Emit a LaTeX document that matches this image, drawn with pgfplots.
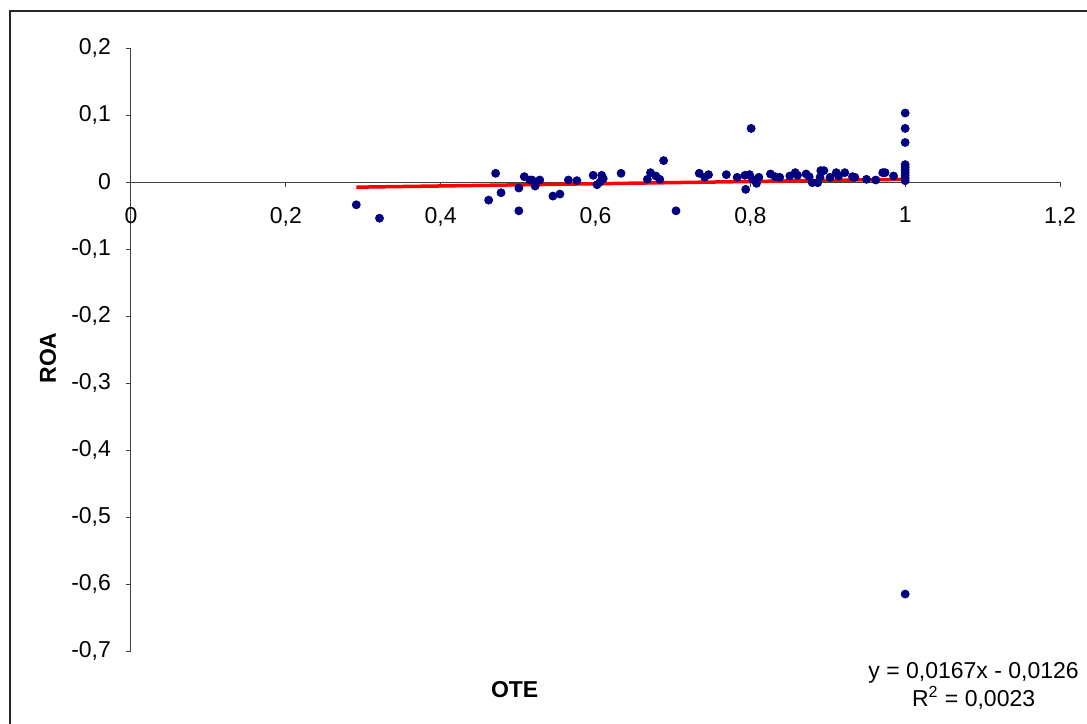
\documentclass[border=0pt]{standalone}
\usepackage{pgfplots}
\pgfplotsset{compat=1.18}
\usepackage{fontspec}
\setmainfont{Liberation Sans}
\definecolor{dotblue}{RGB}{0,0,128}
\pgfplotstableread{
x y
0.291 -0.034
0.321 -0.054
0.462 -0.027
0.471 0.013
0.478 -0.016
0.501 -0.043
0.501 -0.009
0.508 0.008
0.515 0.003
0.518 0.003
0.522 -0.006
0.528 0.003
0.545 -0.021
0.554 -0.018
0.565 0.003
0.576 0.002
0.597 0.010
0.602 -0.004
0.606 0.000
0.608 0.010
0.610 0.005
0.633 0.013
0.667 0.004
0.671 0.014
0.678 0.009
0.683 0.004
0.688 0.032
0.704 -0.043
0.734 0.013
0.741 0.007
0.746 0.011
0.769 0.011
0.783 0.007
0.793 0.010
0.794 -0.011
0.799 0.011
0.801 0.080
0.803 0.004
0.808 -0.002
0.811 0.007
0.826 0.012
0.832 0.008
0.838 0.007
0.851 0.009
0.858 0.014
0.861 0.010
0.872 0.012
0.876 0.008
0.880 -0.001
0.887 -0.001
0.890 0.007
0.891 0.017
0.895 0.017
0.903 0.007
0.911 0.014
0.914 0.009
0.922 0.014
0.932 0.008
0.935 0.007
0.950 0.004
0.962 0.003
0.971 0.014
0.974 0.014
0.985 0.009
1 0.103
1 0.080
1 0.059
1 0.026
1 0.022
1 0.018
1 0.014
1 0.010
1 0.006
1 0.002
1 -0.615
}\datatable
\begin{document}
\begin{tikzpicture}
\useasboundingbox (0,0) rectangle (543.5pt,-361.5pt);
\draw[line width=0.75pt, black!85] (5pt,-5.5pt) rectangle (560pt,-380pt);
\begin{axis}[
  at={(65.5pt,-325.5pt)}, anchor=south west,
  scale only axis, width=464.5pt, height=301.5pt,
  axis lines=middle,
  axis line style={black!75, line width=0.5pt, -},
  xmin=0, xmax=1.2, ymin=-0.7, ymax=0.2,
  xtick={0,0.2,0.4,0.6,0.8,1,1.2},
  ytick={-0.7,-0.6,-0.5,-0.4,-0.3,-0.2,-0.1,0,0.1,0.2},
  xticklabels={0,{0,2},{0,4},{0,6},{0,8},1,{1,2}},
  yticklabels={{-0,7},{-0,6},{-0,5},{-0,4},{-0,3},{-0,2},{-0,1},0,{0,1},{0,2}},
  tick align=outside,
  major tick length=2.5pt,
  tick style={black!75, line width=0.5pt},
  hide obscured x ticks=false, hide obscured y ticks=false,
  xticklabel style={font=\fontsize{11.5}{13}\selectfont, yshift=-6.5pt},
  yticklabel style={font=\fontsize{11.5}{13}\selectfont, xshift=-4pt},
  clip=false,
]
\addplot[only marks, mark=*, mark size=2pt, dotblue, mark options={fill=dotblue, draw=dotblue}] table[x=x,y=y] {\datatable};
\addplot[red, line width=1.75pt] coordinates {(0.291,-0.0077) (1,0.0041)};
\node[rotate=90, font=\bfseries\fontsize{11.5}{13}\selectfont] at (axis description cs:-0.0893,0.486) {ROA};
\node[font=\bfseries\fontsize{11.5}{13}\selectfont] at (axis description cs:0.413,-0.0647) {OTE};
\node[align=center, font=\fontsize{11.5}{14}\selectfont, inner sep=0pt] at (axis description cs:0.907,-0.058) {y = 0,0167x - 0,0126\\R\textsuperscript{2} = 0,0023};
\end{axis}
\end{tikzpicture}
\end{document}
